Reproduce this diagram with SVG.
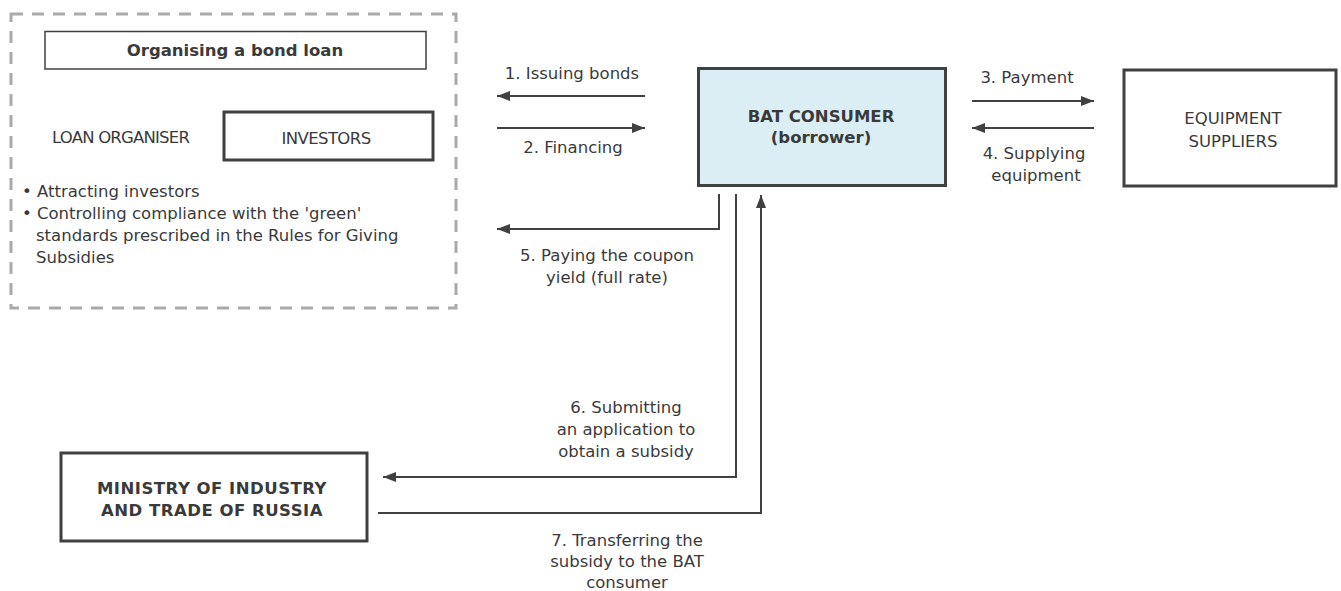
<svg xmlns="http://www.w3.org/2000/svg" width="1341" height="591" viewBox="0 0 1341 591">
<style>
text{font-family:"DejaVu Sans",Verdana,sans-serif;font-size:16.5px;fill:#3a3a3a}
.b{font-weight:bold}
.c{text-anchor:middle}
.box{fill:#fff;stroke:#404040;stroke-width:3}
.thin{fill:#fff;stroke:#404040;stroke-width:1.5}
.ln{fill:none;stroke:#404040;stroke-width:2}
</style>
<defs>
<marker id="ah" viewBox="0 0 13 10" refX="13" refY="5" markerWidth="13" markerHeight="10" markerUnits="userSpaceOnUse" orient="auto">
<path d="M0,0 L13,5 L0,10 z" fill="#404040"/>
</marker>
</defs>
<g id="organiser">
<rect x="11" y="14" width="445" height="294" fill="none" stroke="#aaa" stroke-width="3" stroke-dasharray="12,9"/>
<rect class="thin" x="45" y="31.5" width="381" height="37.5"/>
<text class="b c" x="235" y="56">Organising a bond loan</text>
<text x="52" y="143" letter-spacing="-0.8">LOAN ORGANISER</text>
<text x="22" y="197">• Attracting investors</text>
<text x="22" y="219">• Controlling compliance with the 'green'</text>
<text x="36" y="241">standards prescribed in the Rules for Giving</text>
<text x="36" y="263">Subsidies</text>
</g>
<g id="investors">
<rect class="box" x="224" y="112" width="209" height="48"/>
<text class="c" x="326" y="144" letter-spacing="-0.6">INVESTORS</text>
</g>
<g id="bat">
<rect x="698.5" y="68.5" width="247" height="117" fill="#dbeef4" stroke="#404040" stroke-width="3"/>
<text class="b c" x="821" y="122">BAT CONSUMER</text>
<text class="b c" x="821" y="143">(borrower)</text>
</g>
<g id="suppliers">
<rect class="box" x="1124" y="70" width="212" height="116"/>
<text class="c" x="1233" y="124">EQUIPMENT</text>
<text class="c" x="1233" y="147">SUPPLIERS</text>
</g>
<g id="ministry">
<rect class="box" x="61" y="453" width="306" height="88"/>
<text class="b c" x="212" y="494" letter-spacing="0.5">MINISTRY OF INDUSTRY</text>
<text class="b c" x="212" y="516" letter-spacing="0.5">AND TRADE OF RUSSIA</text>
</g>
<g id="connectors">
<path class="ln" d="M645,96 H497" marker-end="url(#ah)"/>
<path class="ln" d="M497,128 H645" marker-end="url(#ah)"/>
<path class="ln" d="M972,101 H1094" marker-end="url(#ah)"/>
<path class="ln" d="M1094,128 H972" marker-end="url(#ah)"/>
<path class="ln" d="M719,194 V229 H497" marker-end="url(#ah)"/>
<path class="ln" d="M736,194 V477 H383" marker-end="url(#ah)"/>
<path class="ln" d="M378,513 H761 V195" marker-end="url(#ah)"/>
</g>
<g id="labels">
<text class="c" x="572" y="79">1. Issuing bonds</text>
<text class="c" x="573" y="153">2. Financing</text>
<text class="c" x="1027" y="83">3. Payment</text>
<text class="c" x="1034" y="159">4. Supplying</text>
<text class="c" x="1036" y="181">equipment</text>
<text class="c" x="607" y="261">5. Paying the coupon</text>
<text class="c" x="607" y="283">yield (full rate)</text>
<text class="c" x="626" y="413">6. Submitting</text>
<text class="c" x="626" y="435">an application to</text>
<text class="c" x="626" y="457">obtain a subsidy</text>
<text class="c" x="627" y="546">7. Transferring the</text>
<text class="c" x="627" y="567">subsidy to the BAT</text>
<text class="c" x="627" y="588">consumer</text>
</g>
</svg>
